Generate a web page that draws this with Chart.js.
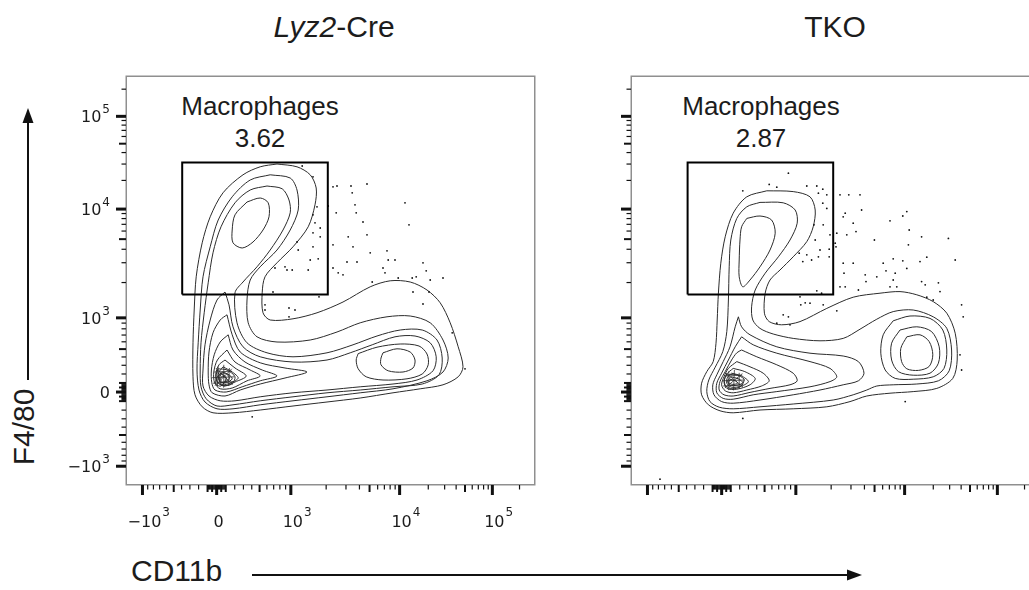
<!DOCTYPE html>
<html>
<head>
<meta charset="utf-8">
<script src="https://cdn.jsdelivr.net/npm/chart.js@4.4.0/dist/chart.umd.min.js"></script>
<style>
html, body { margin: 0; padding: 0; background: #fff; overflow: hidden; }
body { width: 1029px; height: 590px; position: relative; font-family: "Liberation Sans", Arial, sans-serif; color: #1c1c1c; }
canvas { position: absolute; }
#creChart { left: 60px; top: 60px; }
#tkoChart { left: 570px; top: 60px; }
.title { position: absolute; top: 12px; font-size: 30px; line-height: 1; white-space: nowrap; transform: translateX(-50%); }
.gl { position: absolute; font-size: 26px; line-height: 1; white-space: nowrap; transform: translateX(-50%); }
.axt { position: absolute; font-size: 30px; line-height: 30px; white-space: nowrap; }
#ylab { left: 24px; top: 427px; transform: translate(-50%, -50%) rotate(-90deg); }
#arrows { position: absolute; left: 0; top: 0; }
</style>
</head>
<body>
<div class="title" style="left:334px"><i>Lyz2</i>-Cre</div>
<div class="title" style="left:835px">TKO</div>
<div class="gl" style="left:260px;top:93px">Macrophages</div>
<div class="gl" id="creFreq" style="left:260px;top:125px"></div>
<div class="gl" style="left:761px;top:93px">Macrophages</div>
<div class="gl" id="tkoFreq" style="left:761px;top:125px"></div>
<div class="axt" style="left:131px;top:556px">CD11b</div>
<div class="axt" id="ylab">F4/80</div>
<svg id="arrows" width="1029" height="590">
  <line x1="28" y1="380" x2="28" y2="120" stroke="#111" stroke-width="2"/>
  <polygon points="28,108 22.5,123 33.5,123" fill="#111"/>
  <line x1="252" y1="575" x2="850" y2="575" stroke="#111" stroke-width="2"/>
  <polygon points="862,575 847,569.5 847,580.5" fill="#111"/>
</svg>
<canvas id="creChart" width="500" height="480"></canvas>
<canvas id="tkoChart" width="480" height="480"></canvas>
<script>
// both axes are logicle display channels (0 .. 1017.5), pairs are x, y

// gate frequencies
var creFreq = '3.62';
var tkoFreq = '2.87';

// axis tick labels (fluorescence values)
var tickValues = [-1000, 0, 1000, 10000, 100000];
var tickBase = ['\u221210', '0', '10', '10', '10'];
var tickSup = ['3', '', '3', '4', '5'];

// Lyz2-Cre gate and contours
var creGate = [138,474, 502,474, 502,804, 138,804, 138,474];
var creC1 = [375,800, 425,793, 458,773, 473,740, 470,698, 453,643, 415,593, 375,553, 345,518, 338,478, 340,428, 358,410, 415,413, 475,428, 540,455, 608,493, 658,508, 708,505, 750,485, 783,453, 808,403, 828,343, 840,293, 828,268, 790,248, 733,238, 665,228, 583,215, 500,205, 415,195, 333,185, 265,178, 215,178, 188,193, 170,223, 165,268, 165,353, 168,435, 173,518, 188,603, 208,668, 240,728, 290,773, 333,793];
var creC2 = [358,773, 408,765, 425,735, 428,685, 408,635, 375,585, 333,543, 308,510, 300,460, 303,403, 325,368, 375,355, 458,360, 525,380, 583,403, 650,418, 708,420, 758,403, 790,360, 803,315, 790,280, 750,258, 665,238, 583,228, 500,218, 415,208, 333,198, 265,188, 225,188, 195,205, 180,235, 175,285, 178,353, 183,435, 190,518, 208,593, 228,660, 263,718, 308,760];
var creC3 = [350,745, 388,738, 405,710, 408,678, 390,635, 358,585, 325,543, 290,505, 270,478, 275,403, 300,353, 350,328, 415,318, 500,328, 565,348, 625,370, 683,385, 738,385, 775,360, 788,315, 780,273, 738,250, 665,243, 583,235, 500,228, 415,218, 333,208, 265,198, 225,195, 198,213, 185,243, 183,285, 185,353, 193,428, 203,503, 215,578, 235,643, 270,703, 308,735];
var creC4 = [245,480, 255,448, 265,393, 290,343, 333,318, 415,305, 500,310, 558,328, 613,348, 670,368, 720,370, 758,353, 773,318, 765,283, 725,260, 665,250, 583,243, 500,235, 415,228, 333,218, 270,208, 233,208, 205,220, 190,245, 190,285, 195,348, 208,410, 225,460];
var creLobe = [300,705, 333,715, 353,703, 355,668, 340,635, 315,605, 288,590, 265,603, 263,635, 270,673];
var creP3a = [578,326, 625,342, 683,350, 730,345, 750,325, 753,298, 738,275, 700,263, 640,260, 598,268, 578,288, 573,310];
var creP3b = [640,328, 675,338, 708,330, 720,310, 715,290, 690,280, 653,283, 635,298, 635,315];
var creK5 = [250,423, 263,373, 283,330, 333,303, 395,290, 450,280, 395,265, 333,250, 283,235, 245,220, 213,228, 205,248, 203,280, 205,330, 215,378, 233,410];
var creK6 = [253,373, 265,335, 295,305, 338,285, 375,270, 333,258, 288,243, 248,230, 220,235, 212,253, 211,285, 218,323, 233,355];
var creK7 = [250,335, 270,305, 308,285, 333,270, 300,258, 263,240, 233,238, 219,253, 217,280, 226,310];
var creK8 = [245,310, 270,290, 298,270, 270,255, 243,245, 226,255, 222,275, 230,298];
var creK9 = [240,293, 263,280, 278,265, 260,253, 238,248, 230,260, 229,278];
var creK10 = [238,280, 255,273, 263,263, 248,253, 233,255, 232,268];
var creK11 = [238,270, 248,265, 250,258, 238,255, 234,263];
var creK12 = [223,265, 235,275, 248,265, 235,245, 222,250];
var creK13 = [228,288, 250,285, 270,268, 262,250, 240,246, 225,256, 223,273];
var creK14 = [232,276, 246,277, 256,266, 250,256, 236,254, 229,264];
// open hatch lines inside the densest core
var creMesh = [215,252, 265,256,  213,266, 268,268,  218,280, 262,282,  226,244, 228,294,  240,242, 242,298,  254,246, 256,290,  220,246, 262,288,  222,290, 264,248];
var creDots = [438,795, 465,768, 515,743, 525,745, 560,745, 563,728, 600,750, 503,695, 523,678, 570,698, 573,678, 590,655, 695,703, 705,648, 470,653, 483,640, 465,628, 483,618, 425,605, 428,585, 465,593, 515,598, 553,618, 565,593, 600,623, 608,578, 650,583, 550,555, 575,555, 458,560, 478,563, 453,535, 515,540, 528,528, 540,523, 370,540, 395,543, 400,535, 413,535, 640,540, 653,560, 670,560, 645,528, 678,515, 713,515, 723,518, 740,553, 748,533, 758,510, 790,515, 755,480, 715,480, 740,450, 813,378, 845,288, 365,480, 480,468, 345,448, 345,435, 405,440, 420,435, 405,418, 313,168, 613,505, 465,673, 475,693];

// TKO gate and contours
var tkoGate = [139,474, 503,474, 503,804, 139,804, 139,474];
var tkoC1 = [337,733, 403,731, 445,718, 458,685, 453,643, 437,606, 403,568, 370,535, 345,510, 333,477, 331,427, 343,406, 374,398, 420,406, 487,439, 553,467, 620,477, 670,481, 712,473, 753,456, 787,427, 808,377, 813,310, 802,264, 762,239, 703,231, 645,227, 587,220, 545,206, 487,193, 403,188, 320,185, 253,178, 220,183, 191,198, 174,223, 174,252, 187,281, 203,306, 210,352, 213,410, 216,477, 222,552, 233,618, 253,677, 287,718];
var tkoC2 = [320,704, 378,703, 408,685, 413,652, 395,610, 366,568, 333,527, 308,485, 299,443, 302,410, 320,389, 353,375, 403,364, 470,358, 528,364, 570,387, 612,412, 653,431, 703,435, 753,418, 787,389, 799,335, 793,283, 766,258, 712,250, 653,248, 612,245, 587,235, 553,223, 503,210, 403,200, 320,193, 253,188, 218,192, 195,206, 187,231, 192,260, 208,292, 227,331, 237,381, 241,460, 243,543, 247,610, 262,664, 287,693];
var tkoLobe = [287,664, 320,670, 349,660, 358,627, 345,585, 320,543, 295,510, 277,493, 268,518, 268,560, 270,610, 274,643];
var tkoK3 = [266,418, 274,393, 295,373, 362,343, 445,327, 528,320, 566,306, 580,277, 566,258, 528,248, 470,235, 403,223, 320,210, 253,202, 224,206, 205,223, 202,248, 212,273, 228,306, 245,343, 258,393];
var tkoK4 = [274,368, 303,348, 362,327, 445,306, 495,289, 512,268, 495,256, 445,243, 362,231, 303,223, 253,212, 228,214, 212,228, 212,252, 224,277, 241,310, 258,343];
var tkoK5 = [274,335, 312,318, 362,298, 403,277, 413,258, 395,248, 345,239, 295,229, 253,220, 230,223, 218,235, 220,256, 233,281, 249,310, 262,328];
var tkoK6 = [262,306, 295,293, 328,277, 343,258, 324,245, 287,235, 253,228, 233,233, 224,248, 230,268, 241,289];
var tkoK7 = [253,289, 282,281, 308,264, 295,248, 262,237, 237,239, 230,256, 237,275];
var tkoK8 = [249,277, 274,270, 291,256, 274,245, 249,242, 237,252, 239,267];
var tkoK9 = [247,268, 266,263, 277,253, 262,247, 245,247, 239,258];
var tkoK10 = [245,262, 259,258, 264,252, 252,249, 242,253];
var tkoK11 = [236,272, 258,274, 280,262, 272,244, 250,238, 234,246, 231,260];
var tkoP3a = [653,408, 695,420, 745,414, 777,385, 787,335, 780,289, 753,268, 703,262, 658,264, 633,285, 622,327, 628,373];
var tkoP3b = [670,385, 712,393, 749,381, 768,343, 766,302, 745,277, 703,272, 666,281, 649,310, 649,352];
var tkoP3c = [687,368, 720,373, 743,356, 752,323, 743,294, 716,284, 687,288, 674,306, 672,339];
var tkoMesh = [228,245, 278,248,  226,258, 282,260,  232,270, 276,272,  240,236, 242,282,  254,234, 256,285,  268,238, 268,278,  232,240, 276,276,  234,278, 278,242];
var tkoDots = [391,777, 343,749, 362,742, 277,733, 437,745, 462,745, 477,737, 466,727, 487,723, 520,723, 542,723, 570,723, 477,702, 487,689, 533,677, 528,668, 574,685, 687,681, 677,670, 645,658, 553,652, 560,631, 537,623, 512,627, 495,623, 478,648, 455,648, 458,610, 470,585, 493,587, 508,602, 510,593, 418,577, 427,556, 437,573, 449,560, 466,568, 493,568, 528,552, 530,527, 553,552, 606,610, 693,635, 724,618, 791,614, 808,560, 691,598, 653,563, 677,558, 628,552, 635,533, 658,527, 687,539, 720,556, 737,567, 583,523, 585,506, 612,518, 653,510, 662,493, 724,506, 733,498, 766,503, 770,481, 753,460, 737,467, 824,448, 828,418, 645,493, 520,493, 533,493, 566,485, 462,483, 474,477, 420,468, 422,448, 433,453, 445,452, 478,448, 512,433, 378,423, 391,418, 362,402, 395,398, 820,323, 824,285, 683,206, 277,164, 70,12];

var creContours = [creC1, creC2, creC3, creC4, creLobe, creP3a, creP3b, creK5, creK6, creK7, creK8, creK9, creK10, creK11, creK12, creK13, creK14];
var tkoContours = [tkoC1, tkoC2, tkoLobe, tkoK3, tkoK4, tkoK5, tkoK6, tkoK7, tkoK8, tkoK9, tkoK10, tkoK11, tkoP3a, tkoP3b, tkoP3c];

document.getElementById('creFreq').textContent = creFreq;
document.getElementById('tkoFreq').textContent = tkoFreq;

// logicle transform (T, W, M, A), returns display position 0..1 for a value
function makeLogicle(T, W, M, A) {
  var w = W / (M + A), x2 = A / (M + A), x1 = x2 + w, x0 = x2 + 2 * w;
  var b = (M + A) * Math.LN10;
  var lo = 1e-6, hi = b, d = 1;
  for (var i = 0; i < 80; i++) {
    d = (lo + hi) / 2;
    if (2 * (Math.log(d) - Math.log(b)) + w * (b + d) > 0) hi = d; else lo = d;
  }
  var ca = Math.exp(x0 * (b + d));
  var fa = Math.exp(b * x1) - ca / Math.exp(d * x1);
  var a = T / (Math.exp(b) - fa - ca / Math.exp(d));
  var c = ca * a, f = -fa * a;
  var S = function(y) {
    if (y >= x1) return a * Math.exp(b * y) - c * Math.exp(-d * y) + f;
    var r = 2 * x1 - y;
    return -(a * Math.exp(b * r) - c * Math.exp(-d * r) + f);
  };
  return function(v) {
    var l = -1, h = 1.5;
    for (var j = 0; j < 60; j++) {
      var m = (l + h) / 2;
      if (S(m) < v) l = m; else h = m;
    }
    return (l + h) / 2;
  };
}
var logicle = makeLogicle(262144, 1.0, 4.5, 0);
var chanMax = 1017.5;
var chanPerUnit = 1007.5;
var chanOffset = { x: 0.25, y: 6 };
function toChannel(v, axis) { return logicle(v) * chanPerUnit + chanOffset[axis]; }

// every tick mark of the logicle axis
var tickMarks = [{ v: 0, kind: 'major' }];
[1, 2, 3, 4, 5].forEach(function(k) {
  for (var m = 1; m <= 9; m++) {
    var v = m * Math.pow(10, k);
    var kind = (m === 1 && k >= 3) ? 'major' : ((m === 5 || (m === 1 && k === 2)) ? 'mid' : 'minor');
    tickMarks.push({ v: v, kind: kind });
    tickMarks.push({ v: -v, kind: kind });
  }
});
var tickLen = { major: 10, mid: 7, minor: 4.5 };
var tickW = { major: 3, mid: 2, minor: 1.2 };

function pts(flat, close) {
  var out = [];
  for (var i = 0; i < flat.length; i += 2) out.push({ x: flat[i], y: flat[i + 1] });
  if (close) out.push(out[0]);
  return out;
}

var flowAxes = {
  id: 'flowAxes',
  afterDraw: function(chart, args, opts) {
    var ctx = chart.ctx, a = chart.chartArea;
    var xs = chart.scales.x, ys = chart.scales.y;
    ctx.save();
    ctx.strokeStyle = '#8f8f8f';
    ctx.lineWidth = 1.5;
    ctx.strokeRect(a.left - 0.75, a.top - 0.75, a.right - a.left + 1.5, a.bottom - a.top + 1.5);
    ctx.strokeStyle = '#111';
    tickMarks.forEach(function(t) {
      var len = tickLen[t.kind];
      ctx.lineWidth = tickW[t.kind];
      var cx = toChannel(t.v, 'x');
      if (cx >= 0 && cx <= chanMax) {
        var px = xs.getPixelForValue(cx);
        ctx.beginPath();
        ctx.moveTo(px, a.bottom + 1);
        ctx.lineTo(px, a.bottom + 1 + len);
        ctx.stroke();
      }
      var cy = toChannel(t.v, 'y');
      if (cy >= 0 && cy <= chanMax) {
        var py = ys.getPixelForValue(cy);
        ctx.beginPath();
        ctx.moveTo(a.left - 1, py);
        ctx.lineTo(a.left - 1 - len, py);
        ctx.stroke();
      }
    });
    if (opts.labels) {
      ctx.fillStyle = '#1c1c1c';
      ctx.textBaseline = 'alphabetic';
      ctx.textAlign = 'left';
      tickValues.forEach(function(v, i) {
        var base = tickBase[i], sup = tickSup[i];
        ctx.font = '16px "DejaVu Sans"';
        var wb = ctx.measureText(base).width;
        ctx.font = '12px "DejaVu Sans"';
        var ws = sup ? ctx.measureText(sup).width + 1 : 0;
        // x axis
        var px = xs.getPixelForValue(toChannel(v, 'x'));
        var bx = px + 2 - wb / 2;
        ctx.font = '16px "DejaVu Sans"';
        ctx.fillText(base, bx, a.bottom + 43);
        if (sup) {
          ctx.font = '12px "DejaVu Sans"';
          ctx.fillText(sup, bx + wb + 1, a.bottom + 32);
        }
        // y axis
        var py = ys.getPixelForValue(toChannel(v, 'y'));
        var right = a.left - 17;
        var sx = right - ws - wb;
        ctx.font = '16px "DejaVu Sans"';
        ctx.fillText(base, sx, py + 6);
        if (sup) {
          ctx.font = '12px "DejaVu Sans"';
          ctx.fillText(sup, sx + wb + 1, py - 3);
        }
      });
    }
    ctx.restore();
  }
};

function makeChart(id, contours, mesh, dots, gate, padding, showLabels) {
  var datasets = [{
    data: pts(gate, false), showLine: true, borderColor: '#000', borderWidth: 2,
    pointRadius: 0, tension: 0
  }, {
    data: pts(dots, false), showLine: false, pointRadius: 0.9,
    pointBackgroundColor: '#111', pointBorderWidth: 0
  }];
  contours.forEach(function(c) {
    datasets.push({
      data: pts(c, true), showLine: true, borderColor: '#2b2b2b', borderWidth: 1,
      pointRadius: 0, tension: 0.3
    });
  });
  for (var i = 0; i < mesh.length; i += 4) {
    datasets.push({
      data: pts(mesh.slice(i, i + 4), false), showLine: true, borderColor: '#333',
      borderWidth: 0.8, pointRadius: 0, tension: 0
    });
  }
  return new Chart(document.getElementById(id), {
    type: 'scatter',
    data: { datasets: datasets },
    options: {
      responsive: false,
      animation: false,
      events: [],
      layout: { padding: padding },
      plugins: { legend: { display: false }, tooltip: { enabled: false }, flowAxes: { labels: showLabels } },
      scales: {
        x: { type: 'linear', min: 0, max: chanMax, display: false },
        y: { type: 'linear', min: 0, max: chanMax, display: false }
      }
    },
    plugins: [flowAxes]
  });
}

makeChart('creChart', creContours, creMesh, creDots, creGate, { left: 67, top: 17, right: 26, bottom: 56 }, true);
makeChart('tkoChart', tkoContours, tkoMesh, tkoDots, tkoGate, { left: 62, top: 17, right: 11, bottom: 56 }, false);
</script>
</body>
</html>
